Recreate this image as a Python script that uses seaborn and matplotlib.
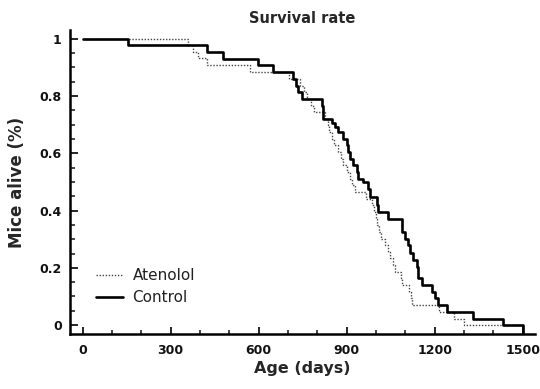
import numpy as np
import pandas as pd
import matplotlib
matplotlib.use('Agg')
import matplotlib.pyplot as plt
from matplotlib.ticker import MultipleLocator
import seaborn as sns

# ── Survival steps (age in days, fraction alive after step) ──
atenolol_days = [0, 360, 378, 392, 423, 570, 705, 740, 755, 765, 780, 790, 828,
                 835, 840, 850, 856, 872, 880, 889, 900, 910, 918, 928, 965,
                 985, 995, 1000, 1005, 1012, 1018, 1030, 1040, 1048, 1058, 1065,
                 1085, 1088, 1112, 1118, 1122, 1215, 1265, 1300, 1425]
atenolol_alive = [1.0, 0.977, 0.955, 0.932, 0.909, 0.884, 0.860, 0.837, 0.814,
                  0.791, 0.767, 0.744, 0.721, 0.698, 0.674, 0.651, 0.628, 0.605,
                  0.581, 0.558, 0.535, 0.512, 0.488, 0.465, 0.442, 0.419, 0.395,
                  0.372, 0.349, 0.326, 0.302, 0.279, 0.256, 0.233, 0.209, 0.186,
                  0.163, 0.140, 0.116, 0.093, 0.070, 0.047, 0.023, 0.0, 0.0]

control_days = [0, 155, 423, 479, 599, 648, 718, 727, 735, 747, 815, 820, 849,
                860, 872, 889, 900, 906, 911, 923, 934, 940, 957, 974, 980,
                1002, 1008, 1042, 1088, 1099, 1110, 1116, 1127, 1139, 1144,
                1156, 1190, 1201, 1212, 1241, 1332, 1434, 1500]
# last step runs down onto the x axis, as in the original
control_alive = [1.0, 0.977, 0.953, 0.930, 0.907, 0.884, 0.860, 0.837, 0.814,
                 0.791, 0.767, 0.721, 0.705, 0.693, 0.674, 0.651, 0.628, 0.605,
                 0.581, 0.558, 0.535, 0.512, 0.500, 0.477, 0.449, 0.419, 0.395,
                 0.372, 0.326, 0.302, 0.279, 0.251, 0.227, 0.204, 0.163, 0.140,
                 0.116, 0.093, 0.070, 0.047, 0.023, 0.0, -0.031]

x_ticks = [0, 300, 600, 900, 1200, 1500]
y_ticks = [0, 0.2, 0.4, 0.6, 0.8, 1.0]
y_tick_labels = ['0', '0.2', '0.4', '0.6', '0.8', '1']

df_aten = pd.DataFrame({'age': atenolol_days, 'alive': atenolol_alive})
df_ctrl = pd.DataFrame({'age': control_days, 'alive': control_alive})

sns.set_style('ticks')
plt.rcParams['font.family'] = ['DejaVu Sans']

fig = plt.figure(figsize=(5.4, 3.89), dpi=100)
ax = fig.add_axes([0.1296, 0.1414, 0.861, 0.7815])

sns.lineplot(data=df_aten, x='age', y='alive', ax=ax, estimator=None, sort=False,
             drawstyle='steps-post', color='#444444', lw=1.0,
             linestyle=(0, (1, 1.2)), label='Atenolol')
sns.lineplot(data=df_ctrl, x='age', y='alive', ax=ax, estimator=None, sort=False,
             drawstyle='steps-post', color='black', lw=1.9, label='Control')

ax.set_xlim(-43, 1542)
ax.set_ylim(-0.031, 1.031)
ax.set_xticks(x_ticks)
ax.set_yticks(y_ticks)
ax.set_yticklabels(y_tick_labels)
ax.xaxis.set_minor_locator(MultipleLocator(100))
ax.yaxis.set_minor_locator(MultipleLocator(0.05))

for s in ['top', 'right']:
    ax.spines[s].set_visible(False)
for s in ['left', 'bottom']:
    ax.spines[s].set_linewidth(1.8)
    ax.spines[s].set_color('black')

ax.tick_params(axis='x', which='major', direction='in', length=5, width=1.4, pad=7)
ax.tick_params(axis='x', which='minor', direction='in', length=3, width=1.2)
ax.tick_params(axis='y', which='major', direction='in', length=6, width=1.4, pad=6)
ax.tick_params(axis='y', which='minor', direction='in', length=3.5, width=1.2)
for lab in ax.get_xticklabels() + ax.get_yticklabels():
    lab.set_fontweight('bold')
    lab.set_fontsize(9)
    lab.set_color('#111111')

ax.set_xlabel('Age (days)', fontsize=11.5, fontweight='bold', labelpad=3)
ax.set_ylabel('Mice alive (%)', fontsize=12, fontweight='bold', labelpad=10)
ax.set_title('Survival rate', fontsize=10.5, fontweight='bold', pad=5)

leg = ax.legend(loc='center left', bbox_to_anchor=(0.057, 0.156), frameon=False,
                borderaxespad=0, borderpad=0, fontsize=11, handlelength=1.75,
                handletextpad=0.6, labelspacing=0.45)
for t in leg.get_texts():
    t.set_color('#222222')

fig.savefig('out.png', dpi=100)
plt.close(fig)
